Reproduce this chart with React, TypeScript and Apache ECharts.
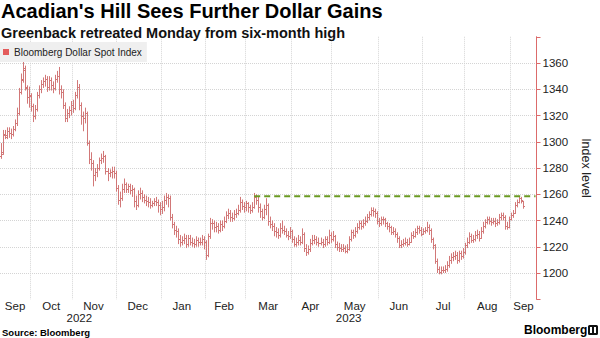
import React, { useEffect, useRef } from 'react';
import * as echarts from 'echarts';

const START_DATE = '2022-09-12';
const PAD_DAYS = 6;
const SERIES_NAME = 'Bloomberg Dollar Spot Index';
const REF_LEVEL = 1258.5;
const REF_START = 126;
const MONTHS = ['Jan', 'Feb', 'Mar', 'Apr', 'May', 'Jun', 'Jul', 'Aug', 'Sep', 'Oct', 'Nov', 'Dec'];

const opens = [1289,1292,1305,1304,1308, 1307,1306,1310,1314,1322, 1338,1347,1355,1341,1334, 1335,1327,1320,1325,1336, 1340,1344,1346,1348,1342, 1347,1343,1341,1348,1350, 1340,1338,1328,1318,1322, 1324,1328,1326,1336,1342, 1328,1320,1318,1322,1299, 1287,1284,1275,1277,1280, 1286,1288,1289,1278,1276, 1277,1278,1276,1265,1256, 1257,1264,1268,1264,1266, 1263,1264,1255,1252,1260, 1261,1258,1256,1255,1254, 1252,1253,1255,1254,1252, 1249,1250,1256,1258,1257, 1243,1237,1233,1232,1226, 1224,1225,1227,1222,1227, 1224,1223,1222,1225,1224, 1224,1226,1224,1214,1228, 1238,1238,1235,1236,1233, 1237,1236,1240,1244,1246, 1243,1242,1245,1246,1248, 1254,1251,1250,1253,1250, 1248,1250,1258,1256,1250, 1247,1243,1249,1252,1240, 1237,1236,1232,1231,1229, 1234,1233,1232,1229,1228, 1232,1226,1222,1224,1225, 1224,1230,1219,1216,1218, 1223,1225,1226,1224,1223, 1224,1222,1226,1224,1229, 1226,1228,1222,1220,1219, 1218,1219,1217,1218,1226, 1231,1229,1232,1235,1238, 1236,1238,1240,1243,1245, 1248,1247,1246,1240,1238, 1241,1241,1238,1236,1235, 1231,1232,1230,1227,1221, 1222,1223,1224,1222,1224, 1229,1228,1231,1234,1233, 1230,1232,1233,1235,1233, 1226,1221,1209,1203,1201, 1202,1202,1203,1206,1210, 1212,1213,1214,1210,1215, 1213,1216,1221,1224,1228, 1225,1226,1229,1230,1227, 1232,1236,1239,1241,1240, 1239,1240,1238,1239,1243, 1244,1243,1236,1235,1241, 1244,1246,1252,1254,1257, 1255];

const highs = [1299,1309,1309,1311,1311, 1310,1312,1317,1326,1341, 1352,1361,1358,1343,1342, 1337,1329,1328,1338,1343, 1347,1349,1351,1350,1350, 1349,1346,1351,1354,1357, 1343,1340,1330,1325,1327, 1331,1332,1338,1347,1344, 1330,1323,1326,1323,1301, 1292,1286,1280,1283,1288, 1291,1293,1290,1280,1279, 1281,1281,1278,1267,1262, 1268,1272,1269,1268,1268, 1267,1265,1259,1263,1265, 1263,1260,1259,1258,1257, 1255,1257,1258,1256,1254, 1255,1259,1261,1260,1259, 1245,1239,1236,1234,1229, 1228,1230,1229,1229,1229, 1227,1226,1228,1227,1227, 1229,1228,1225,1230,1242, 1241,1240,1239,1238,1240, 1240,1243,1247,1249,1248, 1246,1248,1249,1252,1258, 1256,1254,1255,1254,1252, 1254,1261,1260,1258,1253, 1249,1252,1257,1253,1243, 1240,1238,1235,1234,1238, 1240,1236,1234,1232,1235, 1233,1228,1227,1229,1228, 1234,1231,1222,1221,1226, 1229,1229,1228,1227,1227, 1226,1228,1228,1233,1231, 1232,1229,1224,1223,1222, 1222,1221,1222,1228,1233, 1233,1235,1238,1240,1240, 1241,1243,1245,1247,1250, 1250,1249,1247,1242,1243, 1243,1242,1239,1238,1236, 1235,1234,1231,1228,1225, 1226,1227,1226,1227,1231, 1232,1234,1236,1236,1235, 1234,1235,1239,1237,1234, 1227,1222,1211,1205,1205, 1205,1206,1209,1213,1215, 1216,1217,1216,1217,1217, 1219,1223,1227,1231,1230, 1229,1232,1233,1232,1235, 1239,1241,1243,1243,1242, 1242,1242,1241,1245,1246, 1246,1244,1239,1243,1246, 1248,1254,1256,1258.5,1258, 1255];

const lows = [1287,1290,1302,1302,1303, 1302,1304,1308,1312,1320, 1336,1345,1339,1329,1326, 1323,1315,1317,1323,1333, 1337,1341,1342,1338,1339, 1339,1337,1339,1345,1336, 1333,1325,1315,1315,1318, 1320,1322,1324,1333,1324, 1313,1308,1314,1297,1283, 1278,1266,1270,1273,1278, 1283,1284,1275,1270,1273, 1272,1272,1262,1252,1250, 1255,1261,1261,1261,1260, 1258,1250,1248,1250,1256, 1254,1253,1251,1250,1249, 1250,1251,1251,1246,1244, 1245,1247,1252,1250,1240, 1234,1229,1227,1222,1220, 1221,1222,1219,1220,1221, 1220,1219,1220,1220,1221, 1221,1218,1210,1212,1226, 1233,1231,1231,1230,1231, 1232,1234,1238,1241,1239, 1239,1240,1242,1244,1246, 1248,1246,1247,1246,1245, 1246,1249,1252,1246,1242, 1240,1241,1244,1236,1234, 1232,1228,1227,1226,1227, 1230,1229,1227,1225,1226, 1223,1220,1220,1221,1221, 1222,1216,1213,1214,1216, 1221,1222,1221,1220,1221, 1219,1220,1221,1222,1223, 1224,1219,1217,1216,1216, 1216,1215,1215,1217,1224, 1226,1227,1230,1233,1233, 1234,1236,1238,1240,1243, 1243,1242,1237,1235,1236, 1237,1235,1233,1231,1229, 1229,1227,1223,1219,1219, 1220,1221,1220,1221,1223, 1226,1227,1229,1230,1228, 1229,1230,1231,1229,1223, 1218,1207,1200,1199,1199, 1200,1200,1201,1204,1207, 1209,1210,1207,1208,1210, 1211,1214,1219,1222,1223, 1223,1224,1226,1224,1226, 1230,1234,1237,1237,1236, 1237,1235,1236,1237,1240, 1240,1233,1233,1234,1240, 1242,1245,1250,1253,1253, 1249];

const closes = [1291,1306,1305,1308,1307, 1306,1310,1314,1322,1338, 1348,1356,1342,1334,1336, 1327,1320,1325,1336,1340, 1344,1346,1348,1342,1347, 1343,1341,1348,1350,1340, 1338,1328,1318,1322,1324, 1328,1326,1336,1342,1328, 1320,1318,1322,1299,1287, 1284,1275,1277,1280,1286, 1288,1289,1278,1276,1277, 1278,1276,1265,1256,1257, 1264,1268,1264,1266,1263, 1264,1255,1252,1260,1261, 1258,1256,1255,1254,1252, 1253,1255,1254,1252,1249, 1250,1256,1258,1257,1243, 1237,1233,1232,1226,1224, 1225,1227,1222,1227,1224, 1223,1222,1225,1224,1224, 1226,1224,1214,1228,1238, 1238,1235,1236,1233,1237, 1236,1240,1244,1246,1243, 1242,1245,1246,1248,1254, 1251,1250,1253,1250,1248, 1250,1258,1256,1250,1247, 1243,1249,1252,1240,1237, 1236,1232,1231,1229,1234, 1233,1232,1229,1228,1232, 1226,1222,1224,1225,1224, 1230,1219,1216,1218,1223, 1225,1226,1224,1223,1224, 1222,1226,1224,1229,1226, 1228,1222,1220,1219,1218, 1219,1217,1218,1226,1231, 1229,1232,1235,1238,1236, 1238,1240,1243,1245,1248, 1247,1246,1240,1238,1241, 1241,1238,1236,1235,1231, 1232,1230,1227,1221,1222, 1223,1224,1222,1224,1229, 1228,1231,1234,1233,1230, 1232,1233,1235,1233,1226, 1221,1209,1203,1201,1202, 1202,1203,1206,1210,1212, 1213,1214,1210,1215,1213, 1216,1221,1224,1228,1225, 1226,1229,1230,1227,1232, 1236,1239,1241,1240,1239, 1240,1238,1239,1243,1244, 1243,1236,1235,1241,1244, 1246,1252,1254,1257,1256, 1251];

const FONT = '"Liberation Sans", Arial, sans-serif';
const BAR_COLOR = '#d27878';
const AXIS_COLOR = '#dc6b6b';

function buildWeekdays(start: string, count: number): string[] {
  const out: string[] = [];
  const d = new Date(start + 'T00:00:00Z');
  while (out.length < count) {
    const wd = d.getUTCDay();
    if (wd !== 0 && wd !== 6) out.push(d.toISOString().slice(0, 10));
    d.setUTCDate(d.getUTCDate() + 1);
  }
  return out;
}

export default function App() {
  const ref = useRef<HTMLDivElement>(null);
  useEffect(() => {
    if (!ref.current) return;
    const chart = echarts.init(ref.current, null, { renderer: 'svg' });
    const n = Math.min(opens.length, highs.length, lows.length, closes.length);
    const dates = buildWeekdays(START_DATE, n + PAD_DAYS);
    const data = [] as number[][];
    for (let i = 0; i < n; i++) data.push([i, opens[i], highs[i], lows[i], closes[i]]);

    const monthKey = (s: string) => s.slice(0, 7);
    const monthStart = new Set<number>();
    const monthMid = new Set<number>();
    const yearMid = new Set<number>();
    let first = 0;
    for (let i = 1; i <= dates.length; i++) {
      if (i === dates.length || monthKey(dates[i]) !== monthKey(dates[i - 1])) {
        monthMid.add(Math.floor((first + i - 1) / 2));
        if (i < dates.length) monthStart.add(i);
        first = i;
      }
    }
    first = 0;
    for (let i = 1; i <= dates.length; i++) {
      if (i === dates.length || dates[i].slice(0, 4) !== dates[i - 1].slice(0, 4)) {
        yearMid.add(Math.floor((first + i - 1) / 2));
        first = i;
      }
    }

    const gridColors: string[] = [];
    for (let v = 1180; v <= 1380; v += 20) gridColors.push(v === 1180 || v === 1380 ? 'rgba(0,0,0,0)' : '#d4d4d4');

    chart.setOption({
      animation: false,
      textStyle: { fontFamily: FONT },
      title: {
        text: "Acadian's Hill Sees Further Dollar Gains",
        subtext: 'Greenback retreated Monday from six-month high',
        left: 1,
        top: 1,
        padding: 0,
        itemGap: 4,
        textStyle: { fontFamily: FONT, fontSize: 20, fontWeight: 'bold', color: '#000' },
        subtextStyle: { fontFamily: FONT, fontSize: 14.5, fontWeight: 'bold', color: '#111' },
      },
      legend: {
        data: [{ name: SERIES_NAME, icon: 'rect' }],
        left: 0,
        top: 42,
        padding: [5, 5, 5, 3],
        itemWidth: 6,
        itemHeight: 6,
        backgroundColor: '#efefef',
        textStyle: { fontFamily: FONT, fontSize: 10, color: '#222' },
        selectedMode: false,
      },
      grid: { left: 0, right: 46, top: 36.75, bottom: 38.75, containLabel: false },
      xAxis: [
        {
          type: 'category',
          data: dates,
          boundaryGap: true,
          axisLine: { show: false },
          axisTick: { show: false },
          axisLabel: {
            interval: (idx: number) => monthMid.has(idx),
            formatter: (v: string) => MONTHS[parseInt(v.slice(5, 7), 10) - 1],
            fontSize: 11.5,
            color: '#222',
            margin: 1,
          },
          splitLine: {
            show: true,
            interval: (idx: number) => monthStart.has(idx),
            lineStyle: { color: '#d4d4d4', type: 'dotted', width: 1 },
          },
        },
        {
          type: 'category',
          data: dates,
          position: 'bottom',
          offset: 12,
          boundaryGap: true,
          axisLine: { show: false },
          axisTick: { show: false },
          splitLine: { show: false },
          axisLabel: {
            interval: (idx: number) => yearMid.has(idx),
            formatter: (v: string) => v.slice(0, 4),
            fontSize: 11.5,
            color: '#222',
            margin: 1,
          },
        },
      ],
      yAxis: {
        type: 'value',
        position: 'right',
        min: 1180,
        max: 1380,
        interval: 20,
        name: 'Index level',
        nameLocation: 'middle',
        nameRotate: -90,
        nameGap: 37,
        nameTextStyle: { fontFamily: FONT, fontSize: 12.5, color: '#222' },
        axisLine: { show: true, lineStyle: { color: AXIS_COLOR, width: 1 } },
        axisTick: { show: true, inside: false, length: 4, lineStyle: { color: AXIS_COLOR } },
        axisLabel: {
          formatter: (v: number) => (v === 1180 || v === 1380 ? '' : String(v)),
          fontSize: 11.5,
          color: '#222',
          margin: 6,
        },
        splitLine: { show: true, lineStyle: { color: gridColors, type: 'dotted', width: 1 } },
      },
      series: [
        {
          name: SERIES_NAME,
          type: 'custom',
          xAxisIndex: 0,
          itemStyle: { color: '#e35b5b' },
          encode: { x: 0, y: [1, 2, 3, 4] },
          data,
          renderItem: (params: any, api: any) => {
            const idx = api.value(0);
            const o = api.coord([idx, api.value(1)]);
            const h = api.coord([idx, api.value(2)]);
            const l = api.coord([idx, api.value(3)]);
            const c = api.coord([idx, api.value(4)]);
            const x = Math.round(o[0]) + 0.5;
            const yo = Math.round(o[1]) + 0.5;
            const yc = Math.round(c[1]) + 0.5;
            const st = { stroke: BAR_COLOR, lineWidth: 1 };
            return {
              type: 'group',
              children: [
                { type: 'line', shape: { x1: x, y1: h[1], x2: x, y2: l[1] }, style: st },
                { type: 'line', shape: { x1: x - 1.5, y1: yo, x2: x, y2: yo }, style: st },
                { type: 'line', shape: { x1: x, y1: yc, x2: x + 1.5, y2: yc }, style: st },
              ],
            };
          },
        },
        {
          name: 'ref',
          type: 'line',
          xAxisIndex: 0,
          data: [
            [dates[REF_START], REF_LEVEL],
            [dates[dates.length - 1], REF_LEVEL],
          ],
          symbol: 'none',
          z: 5,
          lineStyle: { color: '#6a9a22', width: 2, type: [6, 4] },
          silent: true,
        },
      ],
      graphic: [
        {
          type: 'text',
          left: 2,
          top: 327,
          style: { text: 'Source: Bloomberg', fontFamily: FONT, fontSize: 9.5, fontWeight: 'bold', fill: '#000' },
        },
        {
          type: 'text',
          left: 524,
          top: 324,
          style: { text: 'Bloomberg', fontFamily: FONT, fontSize: 12, fontWeight: 'bold', fill: '#000' },
        },
        {
          type: 'rect',
          left: 588,
          top: 325,
          shape: { width: 10, height: 10, r: 1.5 },
          style: { fill: '#111' },
        },
        {
          type: 'rect',
          left: 590,
          top: 327,
          shape: { width: 2, height: 6 },
          style: { fill: '#fff' },
        },
        {
          type: 'rect',
          left: 594,
          top: 327,
          shape: { width: 2, height: 6 },
          style: { fill: '#fff' },
        },
      ],
    });
    return () => chart.dispose();
  }, []);
  return <div ref={ref} style={{ position: 'absolute', left: 0, top: 0, width: 600, height: 338 }} />;
}
